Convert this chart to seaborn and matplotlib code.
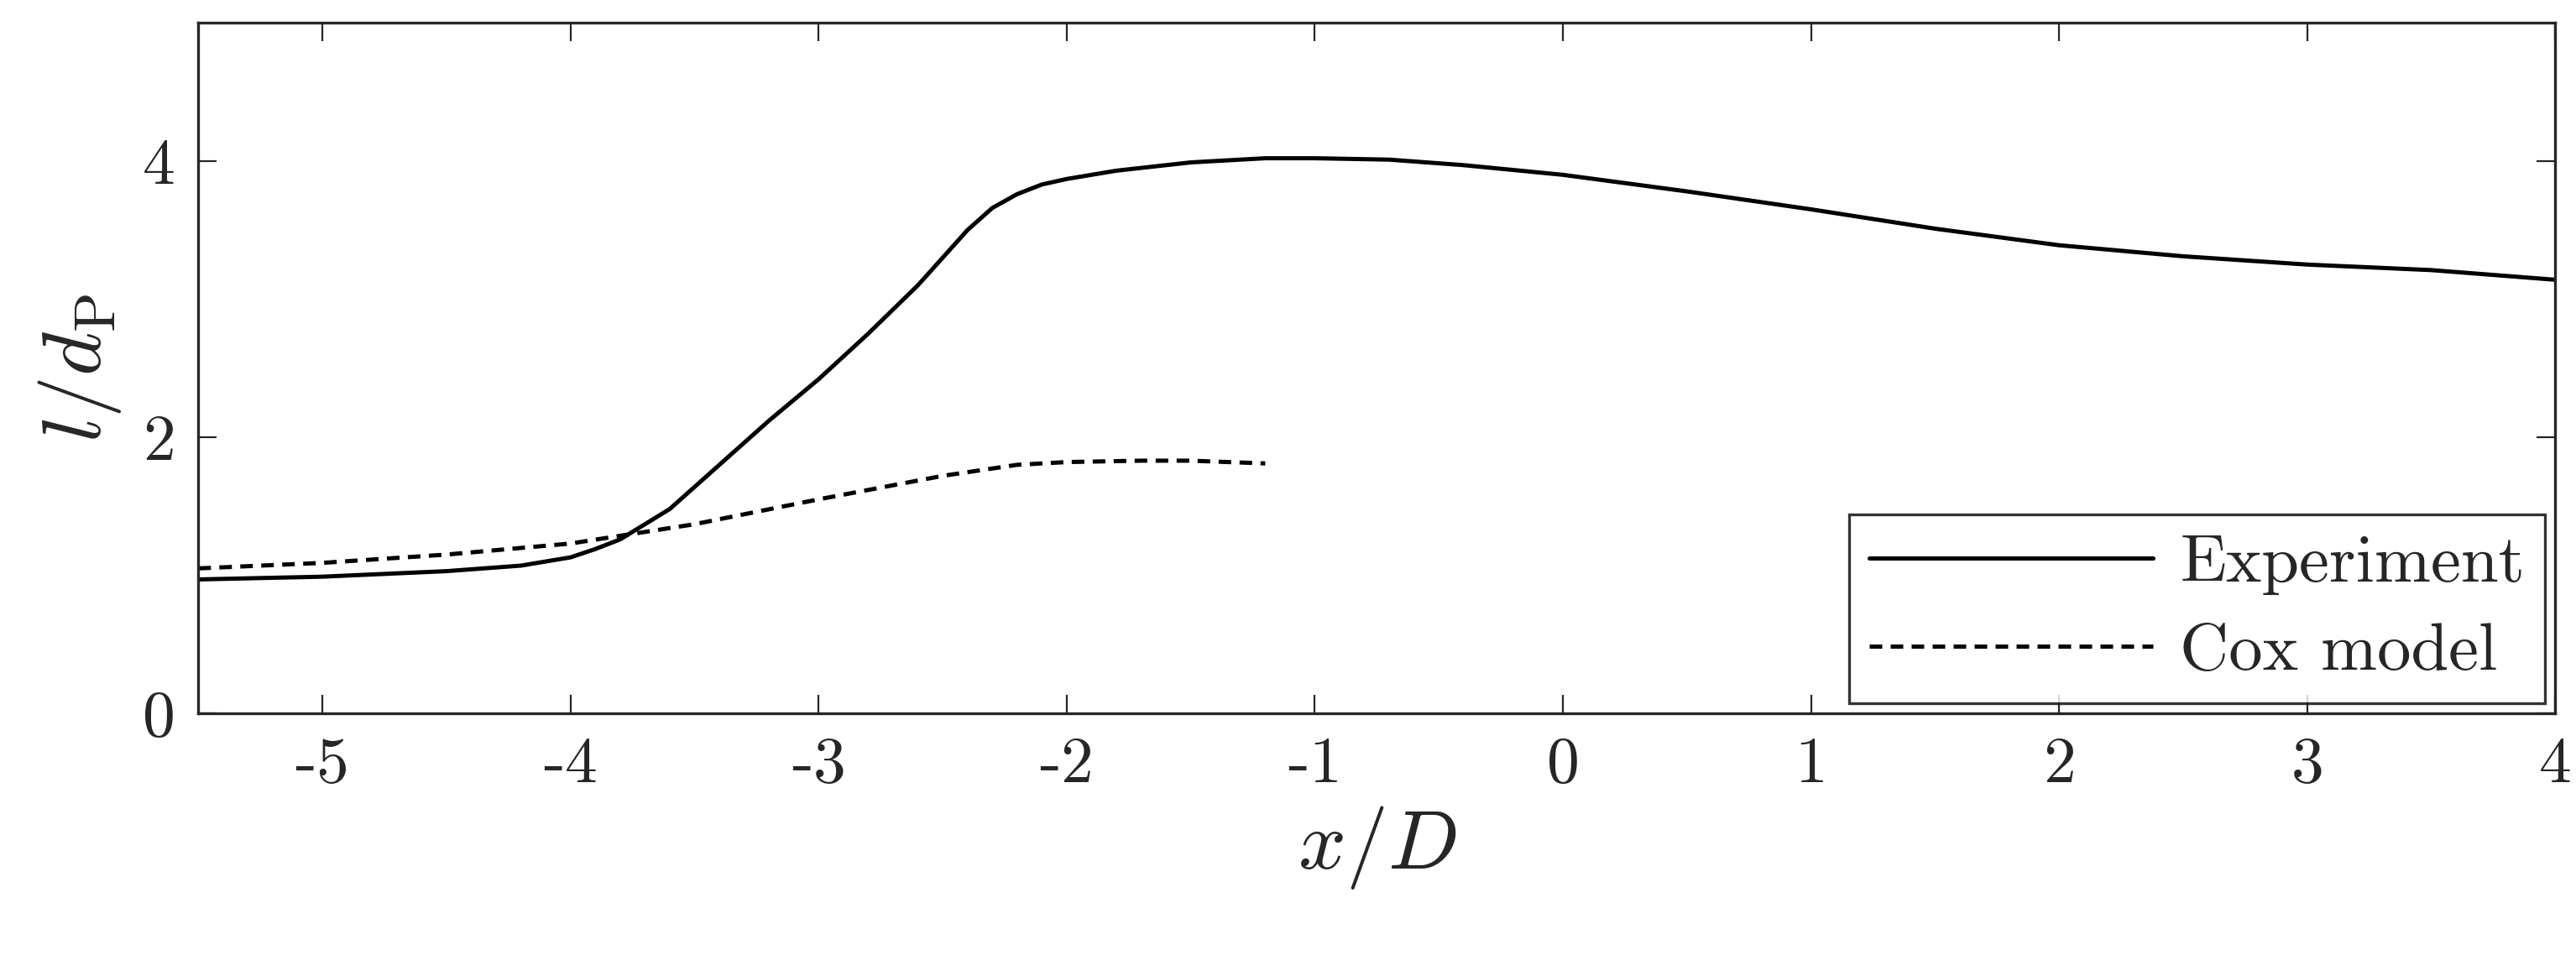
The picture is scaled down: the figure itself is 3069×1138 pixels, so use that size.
import matplotlib
matplotlib.use("Agg")
import matplotlib.pyplot as plt
import seaborn as sns
import pandas as pd

exp_x = [-5.5, -5.0, -4.5, -4.2, -4.0, -3.9, -3.8, -3.6, -3.4, -3.2, -3.0, -2.8, -2.6, -2.5, -2.4, -2.3, -2.2, -2.1, -2.0, -1.8, -1.5, -1.2, -1.0, -0.7, -0.4, 0.0, 0.5, 1.0, 1.5, 2.0, 2.5, 3.0, 3.5, 4.0]
exp_y = [0.97, 0.99, 1.03, 1.07, 1.13, 1.19, 1.26, 1.48, 1.80, 2.12, 2.42, 2.75, 3.10, 3.30, 3.50, 3.66, 3.76, 3.83, 3.87, 3.93, 3.99, 4.02, 4.02, 4.01, 3.97, 3.90, 3.78, 3.65, 3.51, 3.39, 3.31, 3.25, 3.21, 3.14]
cox_x = [-5.5, -5.0, -4.5, -4.0, -3.5, -3.0, -2.5, -2.2, -2.0, -1.7, -1.5, -1.2]
cox_y = [1.05, 1.09, 1.15, 1.23, 1.37, 1.55, 1.72, 1.80, 1.82, 1.83, 1.83, 1.81]
xticks = [-5, -4, -3, -2, -1, 0, 1, 2, 3, 4]
yticks = [0, 2, 4]

df = pd.concat([
    pd.DataFrame({"x": exp_x, "y": exp_y, "s": "Experiment"}),
    pd.DataFrame({"x": cox_x, "y": cox_y, "s": "Cox model"}),
])

sns.set_style("ticks")
plt.rcParams["font.family"] = "serif"
plt.rcParams["font.serif"] = ["cmr10"]
plt.rcParams["mathtext.fontset"] = "cm"
plt.rcParams["axes.unicode_minus"] = False

fig = plt.figure(figsize=(15.345, 5.69), dpi=200)
ax = fig.add_axes([0.077, 0.253, 0.915, 0.723])
sns.lineplot(data=df, x="x", y="y", style="s", color="black", linewidth=1.8,
             dashes={"Experiment": "", "Cox model": (3, 2)}, ax=ax, legend=True)
ax.set_xlim(-5.5, 4)
ax.set_ylim(0, 5)
ax.set_xticks(xticks)
ax.set_xticklabels([str(t) for t in xticks])
ax.set_yticks(yticks)
ax.set_yticklabels([str(t) for t in yticks])
ax.tick_params(labelsize=28, direction="in", top=True, right=True, length=8, pad=10)
ax.set_xlabel(r"$x/D$", fontsize=36, labelpad=4)
ax.set_ylabel(r"$l/d_{\mathrm{P}}$", fontsize=36, labelpad=8)
for sp in ax.spines.values():
    sp.set_linewidth(1.2)
leg = ax.legend(loc="lower right", fontsize=29, frameon=True, fancybox=False,
                edgecolor="black", handlelength=4.2, borderaxespad=0.15,
                borderpad=0.3, labelspacing=0.4, handletextpad=0.4)
leg.get_frame().set_linewidth(1.2)
fig.savefig("out.png", dpi=200)
